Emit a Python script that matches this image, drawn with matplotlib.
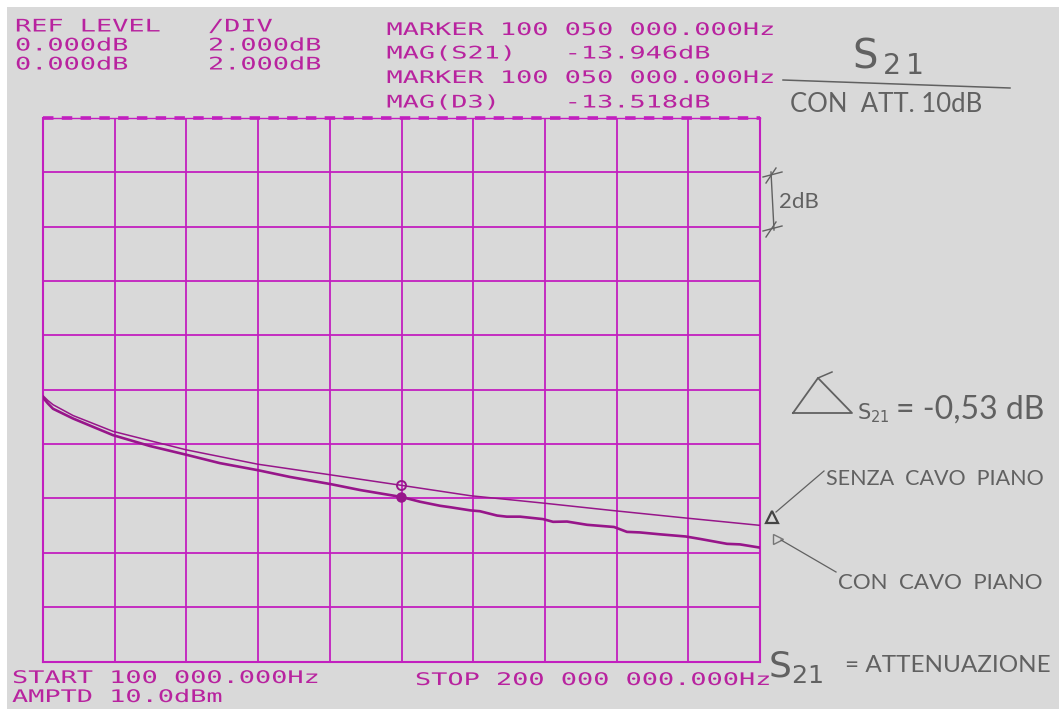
import numpy as np
import matplotlib
matplotlib.use("Agg")
import matplotlib.pyplot as plt
import matplotlib.patheffects as pe
from matplotlib.transforms import Affine2D
from matplotlib.patches import Rectangle
from matplotlib.lines import Line2D

# ---------------- data ----------------
# trace D3 (memory, "senza cavo piano") - thin upper trace
freq_d3 = [0.1, 1.5, 2.9, 8.5, 19.6, 40.0, 60.0, 80.2, 100.05, 119.3, 139.5, 159.3, 179.3, 200.0]
mag_d3 = [-10.22, -10.40, -10.55, -10.95, -11.53, -12.21, -12.74, -13.13, -13.518,
          -13.90, -14.17, -14.45, -14.72, -14.99]

# trace S21 ("con cavo piano") - thick lower trace
freq_s21 = [0.1, 1.5, 2.9, 8.5, 19.6, 29.9, 40.0, 49.4, 60.0, 69.0, 80.2, 88.5, 100.05,
            105.2, 110.8, 113.5, 119.3, 121.9, 126.7, 129.4, 133.1, 139.5, 142.3, 146.2,
            151.8, 159.3, 162.9, 166.5, 172.1, 179.3, 183.3, 190.8, 194.4, 200.0]
mag_s21 = [-10.29, -10.51, -10.70, -11.06, -11.67, -12.07, -12.39, -12.70, -12.96, -13.21,
           -13.47, -13.69, -13.946, -14.12, -14.27, -14.32, -14.44, -14.47, -14.63, -14.67,
           -14.67, -14.76, -14.86, -14.85, -14.97, -15.05, -15.23, -15.25, -15.32, -15.40,
           -15.49, -15.67, -15.69, -15.81]

marker_freq = 100.05
marker_s21 = -13.946
marker_d3 = -13.518

start_mhz, stop_mhz = 0.1, 200.0
ref_level, db_per_div, n_div = 0.0, 2.0, 10

header_left = [("REF LEVEL", "/DIV"), ("0.000dB", "2.000dB"), ("0.000dB", "2.000dB")]
header_right = ["MARKER 100 050 000.000Hz", "MAG(S21)   -13.946dB",
                "MARKER 100 050 000.000Hz", "MAG(D3)    -13.518dB"]
footer = ["START 100 000.000Hz", "STOP 200 000 000.000Hz", "AMPTD 10.0dBm"]

# ---------------- styling ----------------
W, H = 1059, 709
BG = "#d9d9d9"
GRID = "#c21fbf"
TRACE = "#97168a"
TXT = "#b8239f"
PENCIL = "#616161"


def fx(x):
    return x / W


def fy(y):
    return 1 - y / H


class HStretch(pe.AbstractPathEffect):
    """Draw text with its glyphs widened horizontally (plotter style font)."""

    def __init__(self, sx):
        super().__init__()
        self.sx = sx

    def draw_path(self, renderer, gc, tpath, affine, rgbFace=None):
        renderer.draw_path(gc, tpath, Affine2D().scale(self.sx, 1.0) + affine, rgbFace)


fig = plt.figure(figsize=(W / 100, H / 100), dpi=100)
fig.patch.set_facecolor("white")
fig.patches.append(Rectangle((fx(7), 0), 1 - fx(7), fy(7), transform=fig.transFigure,
                             facecolor=BG, edgecolor="none", zorder=-10))

ax = fig.add_axes([fx(43), fy(661.5), fx(760) - fx(43), fy(118) - fy(661.5)])
ax.set_facecolor("none")
ax.set_xlim(start_mhz, stop_mhz)
ax.set_ylim(ref_level - n_div * db_per_div, ref_level)
ax.set_xticks(np.linspace(start_mhz, stop_mhz, 11))
ax.set_yticks(np.arange(ref_level - n_div * db_per_div, ref_level + 0.1, db_per_div))
ax.tick_params(length=0, labelbottom=False, labelleft=False)
ax.grid(True, color=GRID, lw=1.3)
for s in ax.spines.values():
    s.set_color(GRID)
    s.set_linewidth(1.5)
ax.spines["top"].set_linewidth(1.0)
ax.axhline(ref_level, color=GRID, lw=2.6, ls=(0, (2.9, 2.3)), clip_on=False, zorder=3)

ax.plot(freq_d3, mag_d3, color=TRACE, lw=1.1, zorder=4)
ax.plot(freq_s21, mag_s21, color=TRACE, lw=1.9, zorder=4)
ax.plot([marker_freq], [marker_d3], "o", ms=6.5, mfc="none", mec=TRACE, mew=1.4, zorder=5)
ax.plot([marker_freq], [marker_s21], "o", ms=6.5, mfc=TRACE, mec=TRACE, zorder=5)

# ---------------- instrument annotations ----------------
FS = 12.5
adv = 0.6021 * FS * 100 / 72
stretch = [HStretch(16.2 / adv)]
mono = dict(family="DejaVu Sans Mono", fontsize=FS, color=TXT, ha="left", va="baseline",
            path_effects=stretch)

for (a, b), yb in zip(header_left, [31.5, 50.5, 69.5]):
    fig.text(fx(15), fy(yb), a, **mono)
    fig.text(fx(208), fy(yb), b, **mono)
for s, yb in zip(header_right, [35, 58.5, 83, 107.5]):
    fig.text(fx(386.5), fy(yb), s, **mono)
fig.text(fx(12), fy(683), footer[0], **mono)
fig.text(fx(415), fy(685), footer[1], **mono)
fig.text(fx(12), fy(702), footer[2], **mono)

# ---------------- handwritten (pencil) notes ----------------
plt.rcParams["mathtext.fontset"] = "dejavusans"
hand = dict(family=["Lato", "DejaVu Sans"], color=PENCIL, ha="left", va="baseline")
mt = dict(color=PENCIL, ha="left", va="baseline")

fig.text(fx(852), fy(68), r"$\mathrm{S}_{\,2\,1}$", fontsize=29, **mt)
fig.add_artist(Line2D([fx(783), fx(1010)], [fy(80), fy(88)], color=PENCIL, lw=1.1))
fig.text(fx(790), fy(112), "CON  ATT. 10dB", fontsize=18.5, **hand)

# 2 dB bracket
fig.add_artist(Line2D([fx(771), fx(774)], [fy(172), fy(230)], color=PENCIL, lw=1.0))
for yy in (174, 228):
    fig.add_artist(Line2D([fx(763), fx(782)], [fy(yy + 3), fy(yy - 2)], color=PENCIL, lw=1.0))
    fig.add_artist(Line2D([fx(766), fx(776)], [fy(yy + 9), fy(yy - 6)], color=PENCIL, lw=1.0))
fig.text(fx(779), fy(208), "2dB", fontsize=16, **hand)

# delta S21
fig.add_artist(Line2D([fx(793), fx(852), fx(818), fx(793)],
                      [fy(413), fy(413), fy(378), fy(413)], color=PENCIL, lw=1.3))
fig.add_artist(Line2D([fx(818), fx(832)], [fy(378), fy(372)], color=PENCIL, lw=1.1))
fig.text(fx(857), fy(419), r"$\mathrm{S}_{21}$", fontsize=15, **mt)
fig.text(fx(896), fy(419), "= -0,53 dB", fontsize=23, **hand)

fig.text(fx(826), fy(485), "SENZA  CAVO  PIANO", fontsize=15.5, **hand)
fig.add_artist(Line2D([fx(824), fx(776)], [fy(471), fy(512)], color=PENCIL, lw=0.9))
fig.add_artist(Line2D([fx(772)], [fy(517)], marker="^", ms=9, mfc="none", mec="#444444",
                      mew=1.6))
fig.add_artist(Line2D([fx(778)], [fy(539)], marker=">", ms=7, mfc="none", mec="#777777",
                      mew=1.0))
fig.add_artist(Line2D([fx(781), fx(836)], [fy(540), fy(572)], color=PENCIL, lw=0.9))
fig.text(fx(838), fy(589), "CON  CAVO  PIANO", fontsize=16, **hand)

fig.text(fx(768), fy(677), r"$\mathrm{S}_{21}$", fontsize=26, **mt)
fig.text(fx(845), fy(672), "= ATTENUAZIONE", fontsize=17.5, **hand)

fig.savefig("out.png", dpi=100, facecolor=fig.get_facecolor())
